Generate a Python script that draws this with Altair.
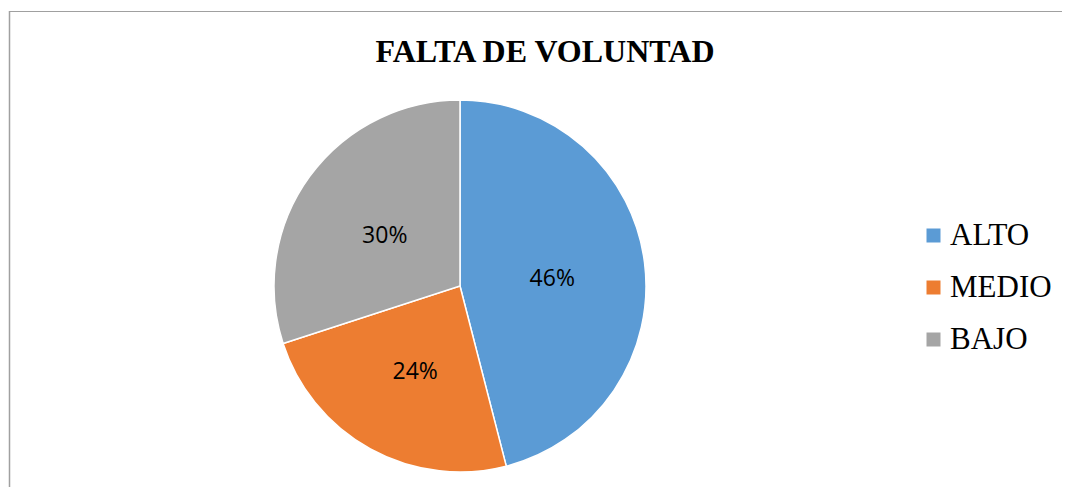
import altair as alt
import pandas as pd

categories = ["ALTO", "MEDIO", "BAJO"]
values = [46, 24, 30]
colors = ["#5B9BD5", "#ED7D31", "#A5A5A5"]
title_text = "FALTA DE VOLUNTAD"

df = pd.DataFrame({
    "cat": categories,
    "val": values,
    "order": list(range(len(categories))),
    "label": [f"{v}%" for v in values],
})

CX, CY, R = 452, 278, 186

color = alt.Color(
    "cat:N",
    scale=alt.Scale(domain=categories, range=colors),
    sort=categories,
    legend=alt.Legend(
        title=None,
        orient="none",
        legendX=910,
        legendY=212,
        symbolType="square",
        symbolSize=196,
        symbolStrokeWidth=0,
        labelFont="Liberation Serif",
        labelFontSize=31,
        labelColor="#000000",
        rowPadding=20,
        labelOffset=1,
    ),
)

base = alt.Chart(df)

pie = base.mark_arc(outerRadius=R, stroke="white", strokeWidth=1.5).encode(
    theta=alt.Theta("val:Q", stack=True),
    order=alt.Order("order:Q"),
    color=color,
    x=alt.value(CX),
    y=alt.value(CY),
)

labels = base.mark_text(
    radius=93, font="Open Sans", fontSize=23, color="#000000", align="center",
    baseline="middle", dy=5
).encode(
    theta=alt.Theta("val:Q", stack=True),
    order=alt.Order("order:Q"),
    text="label:N",
    x=alt.value(CX),
    y=alt.value(CY),
)

one = pd.DataFrame({"t": [title_text]})
title = alt.Chart(one).mark_text(
    font="Liberation Serif", fontSize=32, fontWeight="bold", color="#000000",
    align="center", baseline="alphabetic"
).encode(text="t:N", x=alt.value(537), y=alt.value(54))

left_border = alt.Chart(one).mark_rule(color="#A0A0A0", strokeWidth=1.5, clip=False).encode(
    x=alt.value(1.5), y=alt.value(3), y2=alt.value(490)
)
top_border = alt.Chart(one).mark_rule(color="#A0A0A0", strokeWidth=1, clip=False).encode(
    x=alt.value(1), x2=alt.value(1080), y=alt.value(3.5)
)

chart = alt.layer(left_border, top_border, pie, labels, title).properties(
    width=1054, height=479, autosize=alt.AutoSizeParams(type="none"), padding=0
).configure_view(stroke=None)

chart.save("out.html", embed_options={"renderer": "svg", "actions": False})
